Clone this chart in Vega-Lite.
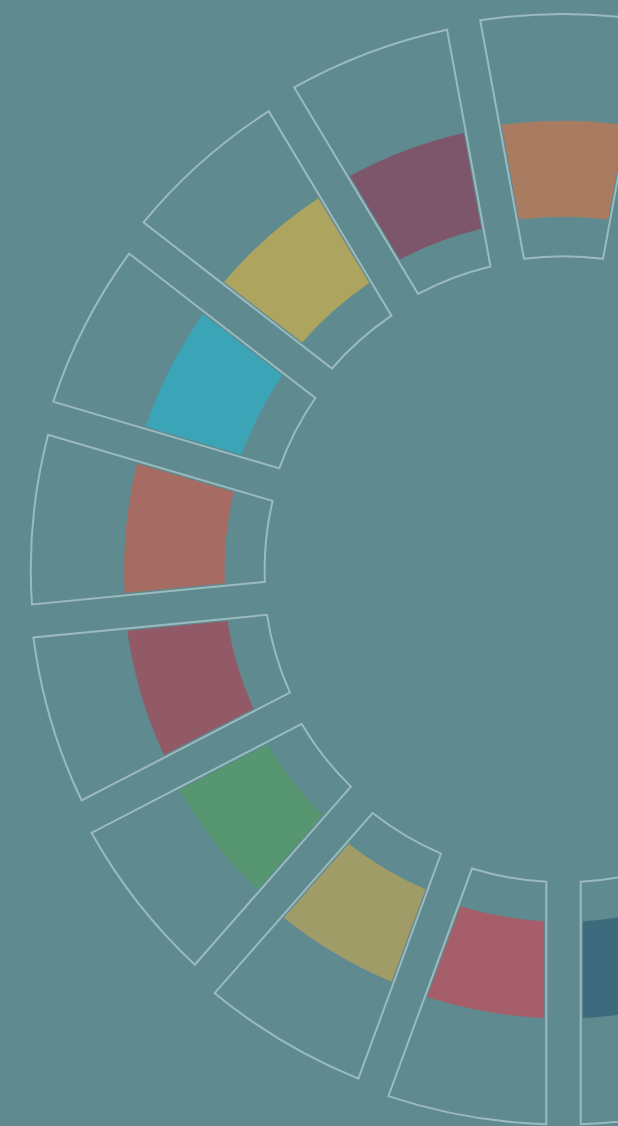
{
  "$schema": "https://vega.github.io/schema/vega-lite/v6.json",
  "width": 618,
  "height": 1126,
  "autosize": {"type": "none"},
  "padding": 0,
  "background": "#5f8a90",
  "config": {"view": {"stroke": null}},
  "data": {
    "values": [
      {"idx": 0, "name": "Orange", "share": 20.8, "track_outer": 100.0, "track_inner": 56.4, "bar_outer": 80.8, "bar_inner": 63.5},
      {"idx": 1, "name": "Teal", "share": 20.57, "track_outer": 99.4, "track_inner": 56.1, "bar_outer": 80.6, "bar_inner": 63.1},
      {"idx": 2, "name": "Olive", "share": 21.23, "track_outer": 98.1, "track_inner": 55.2, "bar_outer": 80.1, "bar_inner": 62.3},
      {"idx": 3, "name": "Rose", "share": 21.37, "track_outer": 96.7, "track_inner": 54.3, "bar_outer": 79.5, "bar_inner": 61.5},
      {"idx": 4, "name": "Slate", "share": 21.96, "track_outer": 95.9, "track_inner": 53.8, "bar_outer": 79.1, "bar_inner": 61.0},
      {"idx": 5, "name": "Sand", "share": 21.85, "track_outer": 96.2, "track_inner": 54.0, "bar_outer": 79.3, "bar_inner": 61.2},
      {"idx": 6, "name": "Moss", "share": 21.38, "track_outer": 97.3, "track_inner": 54.7, "bar_outer": 79.7, "bar_inner": 61.9},
      {"idx": 7, "name": "Plum", "share": 21.07, "track_outer": 98.8, "track_inner": 55.7, "bar_outer": 80.4, "bar_inner": 62.7},
      {"idx": 8, "name": "Blue", "share": 20.17, "track_outer": 99.9, "track_inner": 56.3, "bar_outer": 80.8, "bar_inner": 63.4},
      {"idx": 9, "name": "Pink", "share": 20.17, "track_outer": 99.9, "track_inner": 56.3, "bar_outer": 80.8, "bar_inner": 63.4},
      {"idx": 10, "name": "Khaki", "share": 21.07, "track_outer": 98.8, "track_inner": 55.7, "bar_outer": 80.4, "bar_inner": 62.7},
      {"idx": 11, "name": "Green", "share": 21.38, "track_outer": 97.3, "track_inner": 54.7, "bar_outer": 79.7, "bar_inner": 61.9},
      {"idx": 12, "name": "Wine", "share": 21.85, "track_outer": 96.2, "track_inner": 54.0, "bar_outer": 79.3, "bar_inner": 61.2},
      {"idx": 13, "name": "Brick", "share": 21.96, "track_outer": 95.9, "track_inner": 53.8, "bar_outer": 79.1, "bar_inner": 61.0},
      {"idx": 14, "name": "Cyan", "share": 21.37, "track_outer": 96.7, "track_inner": 54.3, "bar_outer": 79.5, "bar_inner": 61.5},
      {"idx": 15, "name": "Mustard", "share": 21.23, "track_outer": 98.1, "track_inner": 55.2, "bar_outer": 80.1, "bar_inner": 62.3},
      {"idx": 16, "name": "Purple", "share": 20.57, "track_outer": 99.4, "track_inner": 56.1, "bar_outer": 80.6, "bar_inner": 63.1}
    ]
  },
  "transform": [
    {"stack": "share", "groupby": [], "sort": [{"field": "idx", "order": "ascending"}], "as": ["t0", "t1"]}
  ],
  "encoding": {
    "x": {"datum": 0, "type": "quantitative", "scale": {"domain": [-101.44, 9.81], "nice": false, "zero": false}, "axis": null},
    "y": {"datum": 0, "type": "quantitative", "scale": {"domain": [-100.18, 102.52], "nice": false, "zero": false}, "axis": null},
    "theta": {"field": "t0", "type": "quantitative", "scale": {"domain": [0, 360], "range": [-0.18151, 6.10167], "zero": false, "nice": false}},
    "theta2": {"field": "t1"}
  },
  "layer": [
    {
      "mark": {"type": "arc", "padAngle": 0.068},
      "encoding": {
        "radius": {"field": "bar_outer", "type": "quantitative", "scale": {"type": "linear", "domain": [0, 100], "range": [0, 555.5], "zero": true}},
        "radius2": {"field": "bar_inner"},
        "color": {
          "field": "name",
          "type": "nominal",
          "legend": null,
          "scale": {
            "domain": ["Orange", "Teal", "Olive", "Rose", "Slate", "Sand", "Moss", "Plum", "Blue", "Pink", "Khaki", "Green", "Wine", "Brick", "Cyan", "Mustard", "Purple"],
            "range": ["#a97c62", "#4f9a93", "#8f9a5c", "#b07a86", "#5c7187", "#b39c72", "#6f8f5c", "#6e5a7e", "#3e6a7e", "#a65e6a", "#9f9c68", "#569670", "#925966", "#a66c64", "#3ba5b7", "#aca45f", "#7e566c"]
          }
        }
      }
    },
    {
      "mark": {"type": "arc", "padAngle": 0.054, "fillOpacity": 0, "stroke": "#9bbabe", "strokeWidth": 2},
      "encoding": {
        "radius": {"field": "track_outer", "type": "quantitative"},
        "radius2": {"field": "track_inner"}
      }
    }
  ]
}
